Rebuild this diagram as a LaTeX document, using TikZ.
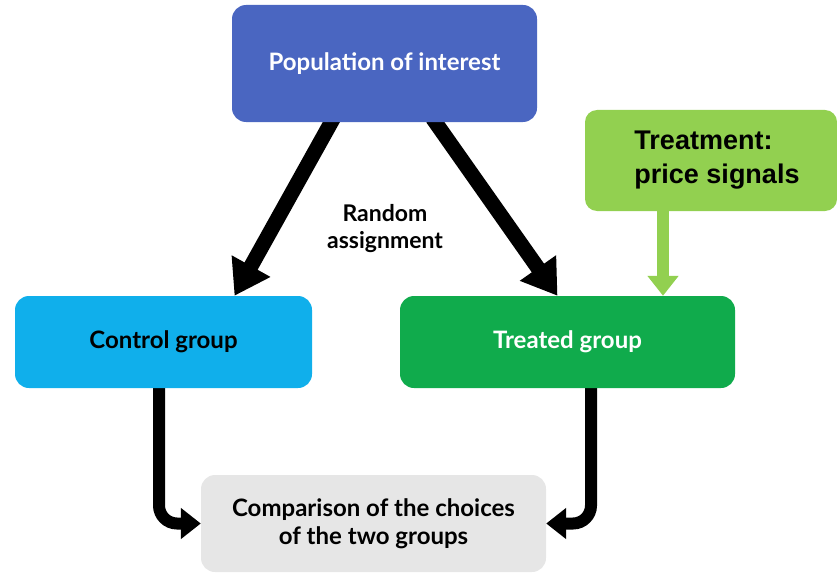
\documentclass[tikz,border=0pt]{standalone}
\usepackage{fontspec}
\setmainfont{Lato}
\newfontfamily\arialfont{Liberation Sans}
\usetikzlibrary{arrows.meta,backgrounds}
\definecolor{popblue}{HTML}{4A66C1}
\definecolor{ctrlblue}{HTML}{10AFEB}
\definecolor{treatgreen}{HTML}{10AB4C}
\definecolor{lightgreen}{HTML}{92D050}
\definecolor{compgrey}{HTML}{E6E6E6}
\tikzset{
  box/.style={rectangle, rounded corners=14pt, inner sep=0pt, align=center,
    font=\fontsize{24}{28}\selectfont\bfseries},
  bigarrow/.style={line width=15pt, -{Triangle[width=42pt,length=34pt]}},
  elbowarrow/.style={line width=12pt, rounded corners=18pt, -{Triangle[width=30pt,length=20pt]}},
  treatarrow/.style={lightgreen, line width=12pt, -{Triangle[width=30pt,length=20pt]}}
}
\begin{document}
\begin{tikzpicture}[x=1pt,y=-1pt]
  \useasboundingbox (0,0) rectangle (837,575);
  % boxes
  \node[box, fill=popblue, text=white, minimum width=305pt, minimum height=117pt] (pop) at (384.5,63.5) {Population of interest};
  \node[box, fill=lightgreen, minimum width=252pt, minimum height=101pt, align=left,
        font=\arialfont\fontsize{27}{34}\selectfont\bfseries, rounded corners=12pt] (treat) at (711,160.5)
        {\hspace*{12pt}Treatment:\\\hspace*{12pt}price signals};
  \node[box, fill=ctrlblue, text=black, minimum width=297pt, minimum height=92pt] (ctrl) at (163.5,342) {Control group};
  \node[box, fill=treatgreen, text=white, minimum width=335pt, minimum height=92pt] (treated) at (567.5,342) {Treated group};
  \node[box, fill=compgrey, text=black, minimum width=345pt, minimum height=97pt] (comp) at (373.5,523.5) {Comparison of the choices\\of the two groups};
  % label
  \node[font=\fontsize{23}{27}\selectfont\bfseries, align=center] (rand) at (385,229) {Random\\assignment};
  % connectors
  \begin{scope}[on background layer]
    \draw[bigarrow] ([xshift=-51pt,yshift=4pt]pop.south) -- ([xshift=71pt]ctrl.north);
    \draw[bigarrow] ([xshift=48pt,yshift=4pt]pop.south) -- ([xshift=-10pt]treated.north);
    \draw[treatarrow] ([xshift=-48pt,yshift=4pt]treat.south) -- ([xshift=95.5pt]treated.north);
    \coordinate (cl) at ([xshift=-4.5pt,yshift=4pt]ctrl.south);
    \coordinate (tr) at ([xshift=23.5pt,yshift=4pt]treated.south);
    \draw[elbowarrow] (cl) |- (comp.west);
    \draw[elbowarrow] (tr) |- (comp.east);
  \end{scope}
\end{tikzpicture}
\end{document}
